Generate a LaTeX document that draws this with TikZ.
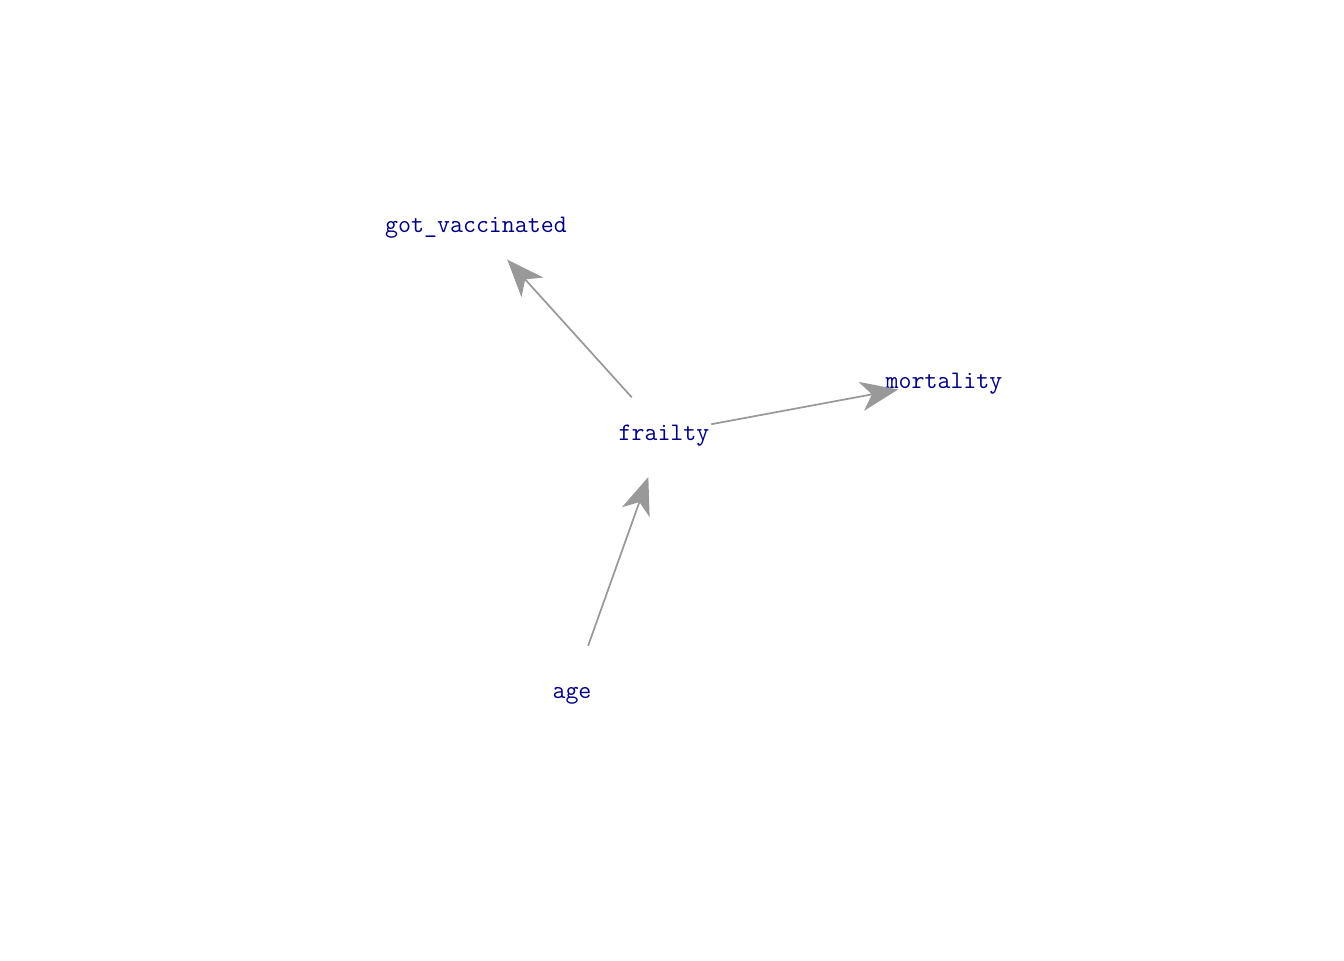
\documentclass[tikz,border=0pt]{standalone}
\usetikzlibrary{arrows.meta}
\definecolor{labelblue}{RGB}{0,0,128}
\definecolor{edgegray}{RGB}{153,153,153}
\begin{document}
\begin{tikzpicture}[x=0.75pt,y=-0.75pt,
  lbl/.style={text=labelblue,font=\ttfamily\fontsize{18.9pt}{21pt}\selectfont,inner sep=0pt,anchor=base},
  edge/.style={draw=edgegray,line width=1.3pt,shorten <=36pt,shorten >=35pt,
    -{Stealth[length=28pt,width=22pt,inset=8pt]}}]
\useasboundingbox (0,0) rectangle (1344,960);
\fill[white] (0,0) rectangle (1344,960);
\coordinate (gv) at (476,225);
\coordinate (fr) at (664,433);
\coordinate (mo) at (944,381);
\coordinate (ag) at (572,691);
\node[lbl] (gvl) at (476,232) {got\_vaccinated};
\node[lbl] (frl) at (664,440) {frailty};
\node[lbl] (mol) at (944,388) {mortality};
\node[lbl] (agl) at (572,698) {age};
\draw[edge] (fr) -- (gv);
\draw[edge] (fr) -- (mo);
\draw[edge] (ag) -- (fr);
\end{tikzpicture}
\end{document}
